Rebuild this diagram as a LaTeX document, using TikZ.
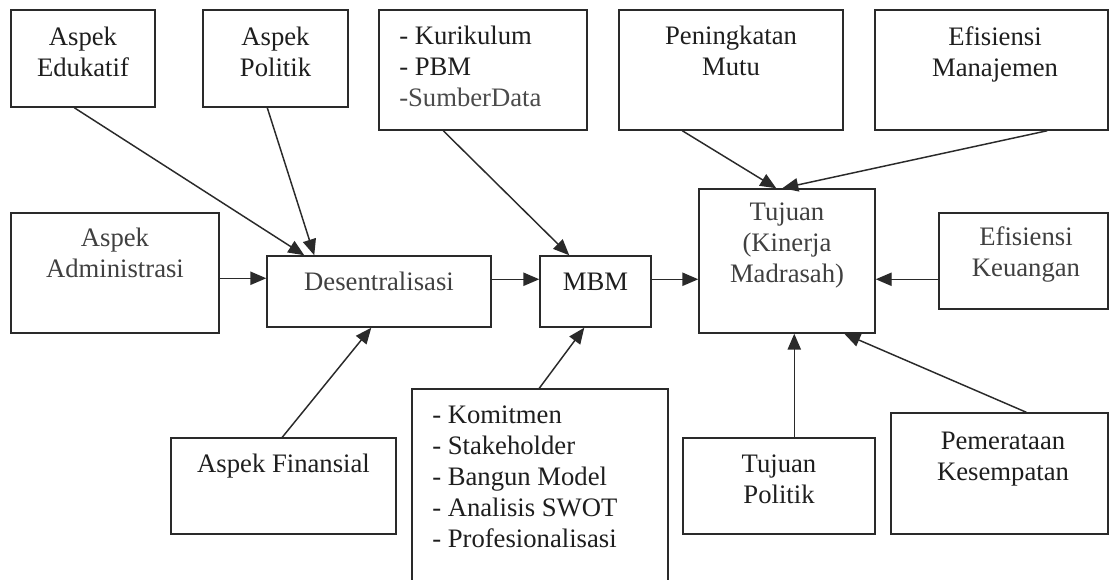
\documentclass[tikz,border=0pt]{standalone}
\usepackage{fontspec}
\setmainfont{Liberation Serif}
\usetikzlibrary{calc,arrows.meta}
\definecolor{ink}{HTML}{1E1E1E}
\definecolor{lineink}{HTML}{2A2A2A}
\begin{document}
\begin{tikzpicture}[x=0.75pt,y=-0.75pt,
  box/.style={draw=lineink,line width=1.1pt,rectangle,inner sep=0pt},
  txt/.style={inner sep=0pt,anchor=base,align=center,text=ink,font=\fontsize{20}{23.25}\selectfont},
  ltxt/.style={inner sep=0pt,anchor=base west,align=left,text=ink,font=\fontsize{20}{23.25}\selectfont},
  arr/.style={draw=lineink,line width=1.1pt,-{Triangle[length=12pt,width=10pt]}}]
\useasboundingbox (0,0) rectangle (1109,580);
\fill[white] (0,0) rectangle (1109,580);
% boxes
\node[box,minimum width=144*0.75pt,minimum height=97*0.75pt] (edu) at (83,58.5) {};
\node[box,minimum width=145*0.75pt,minimum height=97*0.75pt] (pol) at (275.5,58.5) {};
\node[box,minimum width=208*0.75pt,minimum height=120*0.75pt] (kur) at (483,70) {};
\node[box,minimum width=224*0.75pt,minimum height=120*0.75pt] (pen) at (731,70) {};
\node[box,minimum width=233*0.75pt,minimum height=120*0.75pt] (efm) at (991.5,70) {};
\node[box,minimum width=208*0.75pt,minimum height=120*0.75pt] (adm) at (115,273) {};
\node[box,minimum width=224*0.75pt,minimum height=71*0.75pt] (des) at (379,291.5) {};
\node[box,minimum width=111*0.75pt,minimum height=71*0.75pt] (mbm) at (595.5,291.5) {};
\node[box,minimum width=176*0.75pt,minimum height=144*0.75pt] (tuj) at (787,261) {};
\node[box,minimum width=169*0.75pt,minimum height=96*0.75pt] (efk) at (1023.5,261) {};
\node[box,minimum width=225*0.75pt,minimum height=96*0.75pt] (fin) at (283.5,486) {};
\node[box,minimum width=256*0.75pt,minimum height=231*0.75pt] (kom) at (540,504.5) {};
\node[box,minimum width=192*0.75pt,minimum height=96*0.75pt] (tpo) at (779,486) {};
\node[box,minimum width=217*0.75pt,minimum height=121*0.75pt] (pem) at (999.5,473.5) {};
% texts (anchored at the baseline of the last line)
\node[txt] (tedu) at (83,77) {Aspek\\Edukatif};
\node[txt] (tpol) at (275.5,77) {Aspek\\Politik};
\node[ltxt] (tkur) at (399,107) {- Kurikulum\\- PBM\\\textcolor{ink!80}{-SumberData}};
\node[txt] (tpen) at (731,76) {Peningkatan\\Mutu};
\node[txt] (tefm) at (995,77) {Efisiensi\\Manajemen};
\node[txt,text=ink!85] (tadm) at (115,278) {Aspek\\Administrasi};
\node[txt,text=ink!85] (tdes) at (379,291) {Desentralisasi};
\node[txt] (tmbm) at (595.5,291) {MBM};
\node[txt,text=ink!85] (ttuj) at (787,283) {Tujuan\\(Kinerja\\Madrasah)};
\node[txt,text=ink!85] (tefk) at (1026,277) {Efisiensi\\Keuangan};
\node[txt] (tfin) at (283.5,472) {Aspek Finansial};
\node[ltxt] (tkom) at (432,547) {- Komitmen\\- Stakeholder\\- Bangun Model\\- Analisis SWOT\\- Profesionalisasi};
\node[txt] (ttpo) at (779,503) {Tujuan\\Politik};
\node[txt] (tpem) at (1003,480) {Pemerataan\\Kesempatan};
% arrows
\draw[arr] ($(edu.south west)+(64,0)$) -- ($(des.north west)+(38,0)$);
\draw[arr] ($(pol.south west)+(65,0)$) -- ($(des.north west)+(48,0)$);
\draw[arr] ($(kur.south west)+(65,0)$) -- ($(mbm.north west)+(30,0)$);
\draw[arr] ($(pen.south west)+(64,0)$) -- ($(tuj.north west)+(78,0)$);
\draw[arr] ($(efm.south west)+(173,0)$) -- ($(tuj.north west)+(84,0)$);
\draw[arr] ($(adm.north east)+(0,66)$) -- ($(des.north west)+(0,23)$);
\draw[arr] ($(des.north east)+(0,24)$) -- ($(mbm.north west)+(0,24)$);
\draw[arr] ($(mbm.north east)+(0,24)$) -- ($(tuj.north west)+(0,91)$);
\draw[arr] ($(efk.north west)+(0,67)$) -- ($(tuj.north east)+(0,91)$);
\draw[arr] ($(fin.north west)+(112,0)$) -- ($(des.south west)+(105,0)$);
\draw[arr] ($(kom.north west)+(128,0)$) -- ($(mbm.south west)+(45,0)$);
\draw[arr] ($(tpo.north west)+(112,0)$) -- ($(tuj.south west)+(96,0)$);
\draw[arr] ($(pem.north west)+(136,0)$) -- ($(tuj.south west)+(146,0)$);
\end{tikzpicture}
\end{document}
